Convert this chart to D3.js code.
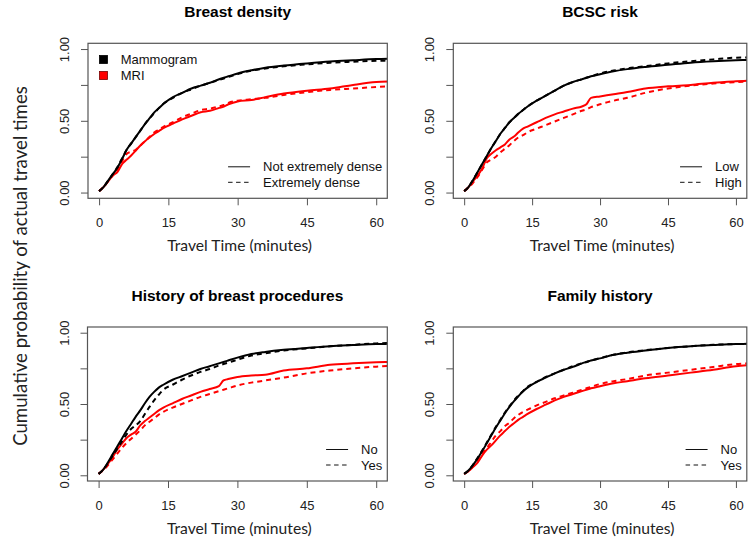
<!DOCTYPE html>
<html>
<head>
<meta charset="utf-8">
<script src="https://cdn.jsdelivr.net/npm/d3@7"></script>
<style>
  body { margin: 0; background: #fff; }
  svg { display: block; }
</style>
</head>
<body>
<div id="chart"></div>
<script>
// Travel time grid (minutes) shared by every curve
const minutes = [0, 1, 2, 3, 4, 5, 6, 7, 8, 9, 10, 11, 12, 13, 14, 16, 18, 20, 22, 24, 26, 27, 28, 30, 33, 36, 40, 45, 50, 55, 60, 63];

// Breast density
const densMammoNot = [.01, .04, .085, .13, .175, .235, .30, .345, .39, .435, .48, .52, .56, .59, .62, .665, .695, .725, .745, .765, .79, .80, .81, .83, .852, .87, .885, .90, .913, .922, .93, .932];
const densMammoExt = [.01, .04, .085, .13, .18, .24, .30, .345, .39, .435, .48, .52, .555, .59, .62, .66, .695, .72, .745, .765, .785, .795, .805, .825, .85, .865, .88, .893, .905, .912, .918, .92];
const densMriNot   = [.01, .04, .08, .12, .145, .20, .23, .26, .295, .33, .36, .385, .41, .43, .45, .48, .51, .535, .56, .57, .59, .60, .615, .635, .645, .665, .69, .71, .725, .75, .77, .775];
const densMriExt   = [.01, .04, .08, .12, .16, .22, .27, .285, .30, .33, .36, .39, .42, .44, .46, .49, .525, .55, .575, .585, .60, .61, .625, .64, .65, .66, .68, .70, .715, .725, .735, .74];

// BCSC risk
const riskMammoLow  = [.01, .04, .09, .145, .20, .255, .31, .36, .41, .45, .49, .52, .55, .575, .60, .64, .675, .71, .745, .77, .79, .80, .81, .825, .845, .86, .875, .89, .905, .915, .922, .925];
const riskMammoHigh = [.01, .04, .09, .145, .20, .255, .31, .36, .41, .45, .49, .52, .55, .575, .60, .64, .675, .71, .745, .77, .79, .80, .81, .83, .85, .865, .88, .90, .915, .928, .94, .942];
const riskMriLow    = [.01, .04, .08, .12, .17, .24, .27, .295, .315, .335, .37, .39, .42, .445, .46, .49, .52, .545, .565, .585, .60, .615, .66, .67, .685, .70, .725, .74, .75, .765, .775, .78];
const riskMriHigh   = [.01, .035, .07, .11, .16, .21, .23, .25, .28, .305, .33, .36, .385, .40, .42, .445, .47, .495, .52, .545, .57, .58, .595, .615, .64, .66, .695, .725, .745, .76, .77, .775];

// History of breast procedures
const histMammoNo  = [.01, .04, .09, .145, .20, .255, .31, .36, .41, .455, .505, .55, .585, .615, .635, .67, .695, .72, .745, .765, .785, .795, .805, .825, .85, .865, .88, .893, .905, .913, .92, .922];
const histMammoYes = [.01, .04, .085, .135, .185, .235, .285, .325, .35, .38, .43, .48, .525, .565, .60, .635, .67, .70, .725, .745, .77, .78, .79, .81, .84, .855, .875, .89, .905, .915, .925, .928];
const histMriNo    = [.01, .04, .08, .125, .18, .22, .26, .285, .305, .35, .38, .405, .43, .455, .475, .505, .535, .56, .585, .605, .625, .665, .675, .69, .70, .705, .735, .75, .775, .785, .792, .795];
const histMriYes   = [.01, .035, .07, .11, .15, .19, .225, .255, .285, .315, .35, .375, .40, .425, .445, .475, .50, .525, .55, .57, .59, .60, .61, .63, .65, .665, .685, .715, .735, .75, .762, .768];

// Family history
const famMammoNo  = [.01, .035, .075, .12, .17, .225, .28, .335, .385, .435, .48, .52, .555, .59, .615, .655, .685, .715, .74, .76, .785, .795, .805, .82, .845, .86, .875, .893, .905, .913, .92, .922];
const famMammoYes = [.01, .035, .075, .125, .175, .23, .285, .34, .39, .44, .485, .525, .56, .59, .62, .655, .69, .715, .74, .765, .785, .795, .805, .822, .845, .862, .877, .893, .905, .915, .92, .922];
const famMriNo    = [.01, .03, .06, .09, .14, .18, .21, .245, .28, .31, .34, .365, .39, .41, .43, .465, .495, .525, .55, .57, .59, .60, .61, .625, .645, .66, .68, .70, .72, .74, .765, .772];
const famMriYes   = [.01, .03, .065, .10, .15, .19, .235, .28, .31, .345, .37, .40, .425, .445, .46, .49, .515, .54, .56, .58, .60, .61, .62, .64, .66, .675, .70, .72, .74, .76, .78, .785];

const titles = ["Breast density", "BCSC risk", "History of breast procedures", "Family history"];
const lineLegends = [
    ["Not extremely dense", "Extremely dense"],
    ["Low", "High"],
    ["No", "Yes"],
    ["No", "Yes"]
];
const modalities = ["Mammogram", "MRI"];
const xTicks = [0, 15, 30, 45, 60];
const yTicks = [0, 0.25, 0.5, 0.75, 1];

// [mammo solid, mammo dashed, mri solid, mri dashed] per panel
const panelSeries = [
    [densMammoNot, densMammoExt, densMriNot, densMriExt],
    [riskMammoLow, riskMammoHigh, riskMriLow, riskMriHigh],
    [histMammoNo, histMammoYes, histMriNo, histMriYes],
    [famMammoNo, famMammoYes, famMriNo, famMriYes]
];

// Plot boxes, in page pixels
const boxes = [
    { left: 88,    top: 43.3, right: 387.3, bottom: 198.3 },
    { left: 453.3, top: 43.3, right: 746.8, bottom: 198.3 },
    { left: 87.5,  top: 327,  right: 387.3, bottom: 481 },
    { left: 453.3, top: 327,  right: 746.8, bottom: 481 }
];

const W = 750, H = 541;
const font = "'Liberation Sans', Arial, sans-serif";
const labelFont = "Lato, 'Open Sans', sans-serif";

const svg = d3.select("#chart")
  .append("svg")
    .attr("width", W)
    .attr("height", H);

// Scale a text so it spans a given length
function fitText(sel, target) {
    const len = sel.node().getComputedTextLength();
    const size = parseFloat(sel.attr("font-size"));
    sel.attr("font-size", size * target / len);
}

boxes.forEach((b, i) => {
    const x = d3.scaleLinear().domain([-2.4, 62.4]).range([b.left, b.right]);
    const y = d3.scaleLinear().domain([-0.04, 1.04]).range([b.bottom, b.top]);
    const g = svg.append("g");

    // Clip to the plot box
    g.append("clipPath")
        .attr("id", "clip" + i)
      .append("rect")
        .attr("x", b.left).attr("y", b.top)
        .attr("width", b.right - b.left).attr("height", b.bottom - b.top);

    // X axis
    const xAxis = g.append("g")
        .attr("transform", `translate(0,${b.bottom})`)
        .call(d3.axisBottom(x).tickValues(xTicks).tickSize(7).tickSizeOuter(0));
    xAxis.select(".domain").remove();
    xAxis.selectAll("line").attr("stroke", "#555");
    xAxis.selectAll("text")
        .attr("y", 28.5).attr("dy", null)
        .attr("fill", "#222")
        .style("font-family", font).style("font-size", "13px");

    // Y axis, labels rotated like R
    const yAxis = g.append("g")
        .attr("transform", `translate(${b.left},0)`)
        .call(d3.axisLeft(y).tickValues(yTicks).tickSize(7).tickSizeOuter(0)
            .tickFormat(d => (d === 0 || d === 0.5 || d === 1) ? d3.format(".2f")(d) : ""));
    yAxis.select(".domain").remove();
    yAxis.selectAll("line").attr("stroke", "#555");
    yAxis.selectAll("text")
        .attr("x", 0).attr("y", -19).attr("dy", null)
        .attr("transform", "rotate(-90)")
        .attr("text-anchor", "middle")
        .attr("fill", "#222")
        .style("font-family", font).style("font-size", "13px");

    // Curves
    const line = d3.line()
        .x((d, j) => x(minutes[j]))
        .y(d => y(d))
        .curve(d3.curveMonotoneX);

    const colors = ["#000", "#000", "#ff0000", "#ff0000"];
    const curves = g.append("g").attr("clip-path", `url(#clip${i})`);
    [2, 3, 0, 1].forEach(k => {
        curves.append("path")
            .datum(panelSeries[i][k])
            .attr("d", line)
            .attr("fill", "none")
            .attr("stroke", colors[k])
            .attr("stroke-width", 2)
            .attr("stroke-dasharray", k % 2 ? "5,4" : null);
    });

    // Box
    g.append("rect")
        .attr("x", b.left).attr("y", b.top)
        .attr("width", b.right - b.left).attr("height", b.bottom - b.top)
        .attr("fill", "none")
        .attr("stroke", "#555")
        .attr("stroke-width", 1.2);

    const cx = (b.left + b.right) / 2;

    // Panel title
    g.append("text")
        .attr("x", cx)
        .attr("y", b.top - 26)
        .attr("text-anchor", "middle")
        .style("font-family", font)
        .style("font-weight", "bold")
        .style("font-size", "15.5px")
        .text(titles[i]);

    // X axis title
    const xt = g.append("text")
        .attr("x", cx + 2)
        .attr("y", b.bottom + 53)
        .attr("text-anchor", "middle")
        .attr("font-size", 16)
        .attr("fill", "#222")
        .style("font-family", labelFont)
        .text("Travel Time (minutes)");
    fitText(xt, 145);

    // Line type legend, bottom right
    const lg = g.append("g");
    const labels = lg.selectAll("text")
        .data(lineLegends[i])
        .join("text")
        .attr("y", (d, j) => b.bottom - 31.5 + j * 15.5 + 4.5)
        .attr("fill", "#111")
        .style("font-family", font)
        .style("font-size", "13px")
        .text(d => d);
    const maxW = d3.max(labels.nodes(), n => n.getComputedTextLength());
    const tx = b.right - 5 - maxW;
    labels.attr("x", tx);
    lg.selectAll("line")
        .data(lineLegends[i])
        .join("line")
        .attr("x1", tx - 35).attr("x2", tx - 13)
        .attr("y1", (d, j) => b.bottom - 31.5 + j * 15.5)
        .attr("y2", (d, j) => b.bottom - 31.5 + j * 15.5)
        .attr("stroke", "#111")
        .attr("stroke-width", 1)
        .attr("stroke-dasharray", (d, j) => j ? "4.5,3.5" : null);

    // Modality legend, first panel only
    if (i === 0) {
        const mg = g.append("g");
        modalities.forEach((m, j) => {
            const yy = 59.5 + j * 16;
            mg.append("rect")
                .attr("x", 99.5).attr("y", yy - 4)
                .attr("width", 8).attr("height", 8)
                .attr("fill", j ? "#ff0000" : "#000")
                .attr("stroke", j ? "#700" : "#000")
                .attr("stroke-width", 0.8);
            mg.append("text")
                .attr("x", 120.7).attr("y", yy + 4.5)
                .attr("fill", "#111")
                .style("font-family", font)
                .style("font-size", "13px")
                .text(m);
        });
    }
});

// Shared y axis title
const yt = svg.append("text")
    .attr("transform", "translate(26.5,266) rotate(-90)")
    .attr("text-anchor", "middle")
    .attr("font-size", 17)
    .attr("fill", "#222")
    .style("font-family", labelFont)
    .text("Cumulative probability of actual travel times");
fitText(yt, 360);
</script>
</body>
</html>
